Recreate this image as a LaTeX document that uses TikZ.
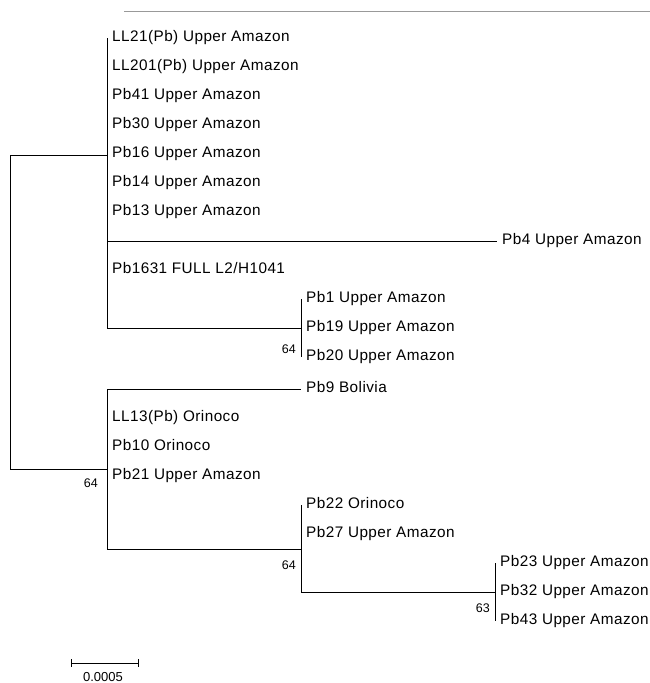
\documentclass[tikz,border=0pt]{standalone}
\usepackage{fontspec}
\setmainfont{Liberation Sans}
\usetikzlibrary{positioning}
\tikzset{
  leaf/.style={anchor=west, inner sep=0pt, text height=0.72em, text depth=0pt,
    font=\fontsize{15.3}{17}\selectfont\addfontfeatures{LetterSpace=3}},
  boot/.style={anchor=east, inner sep=0pt, font=\fontsize{12.5}{14}\selectfont},
  branch/.style={line width=0.8pt, black},
}
\begin{document}
\begin{tikzpicture}[x=1pt, y=-1pt]
\useasboundingbox (0,0) rectangle (650,683);
% rule at the top
\draw[gray!80, line width=1pt] (124,11) -- (650,11);
% inner nodes
\coordinate (rTop) at (10,155);
\coordinate (rBot) at (10,469);
\coordinate (nA) at (107,155);
\coordinate (aTop) at (107,38);
\coordinate (aBot) at (107,328);
\coordinate (a4) at (107,241);
\coordinate (nPb1) at (301,328);
\coordinate (nB) at (107,469);
\coordinate (bTop) at (107,389);
\coordinate (bBot) at (107,549);
\coordinate (nPb22) at (301,549);
\coordinate (nPb23) at (495,592);
% upper clade leaves
\node[leaf] (ll21) at (112,38) {LL21(Pb) Upper Amazon};
\node[leaf] (ll201) at (112,67) {LL201(Pb) Upper Amazon};
\node[leaf] (pb41) at (112,96) {Pb41 Upper Amazon};
\node[leaf] (pb30) at (112,125) {Pb30 Upper Amazon};
\node[leaf] (pb16) at (112,154) {Pb16 Upper Amazon};
\node[leaf] (pb14) at (112,183) {Pb14 Upper Amazon};
\node[leaf] (pb13) at (112,212) {Pb13 Upper Amazon};
\node[leaf] (pb4) at (502,241) {Pb4 Upper Amazon};
\node[leaf] (pb1631) at (112,270) {Pb1631 FULL L2/H1041};
\node[leaf] (pb1) at (306,299) {Pb1 Upper Amazon};
\node[leaf] (pb19) at (306,328) {Pb19 Upper Amazon};
\node[leaf] (pb20) at (306,357) {Pb20 Upper Amazon};
% lower clade leaves
\node[leaf] (pb9) at (306,389) {Pb9 Bolivia};
\node[leaf] (ll13) at (112,418) {LL13(Pb) Orinoco};
\node[leaf] (pb10) at (112,447) {Pb10 Orinoco};
\node[leaf] (pb21) at (112,476) {Pb21 Upper Amazon};
\node[leaf] (pb22) at (306,505) {Pb22 Orinoco};
\node[leaf] (pb27) at (306,534) {Pb27 Upper Amazon};
\node[leaf] (pb23) at (500,563) {Pb23 Upper Amazon};
\node[leaf] (pb32) at (500,592) {Pb32 Upper Amazon};
\node[leaf] (pb43) at (500,621) {Pb43 Upper Amazon};
% branches
\draw[branch] (nA) -- (rTop) -- (rBot) -- (nB);
\draw[branch] (aTop) -- (aBot) -- (nPb1);
\draw[branch] (a4) -- ([xshift=-5pt]pb4.west);
\draw[branch] (nPb1 |- pb1.west) -- (nPb1 |- pb20.west);
\draw[branch] (bTop) -- (bBot) -- (nPb22);
\draw[branch] (bTop) -- ([xshift=-5pt]pb9.west);
\draw[branch] (nPb22 |- pb22.west) -- (nPb22 |- nPb23) -- (nPb23);
\draw[branch] (nPb23 |- pb23.west) -- (nPb23 |- pb43.west);
% bootstrap values
\node[boot] (bs1) at (296,349) {64};
\node[boot] (bs2) at (98,483) {64};
\node[boot] (bs3) at (296,565) {64};
\node[boot] (bs4) at (490,608) {63};
% scale bar
\coordinate (sL) at (71,663);
\coordinate (sR) at (138,663);
\draw[branch] (sL) -- (sR);
\draw[branch] ([yshift=4pt]sL) -- ([yshift=-4pt]sL);
\draw[branch] ([yshift=4pt]sR) -- ([yshift=-4pt]sR);
\node[inner sep=0pt, font=\fontsize{13}{15}\selectfont] (sLab) at (103,677) {0.0005};
\end{tikzpicture}
\end{document}
